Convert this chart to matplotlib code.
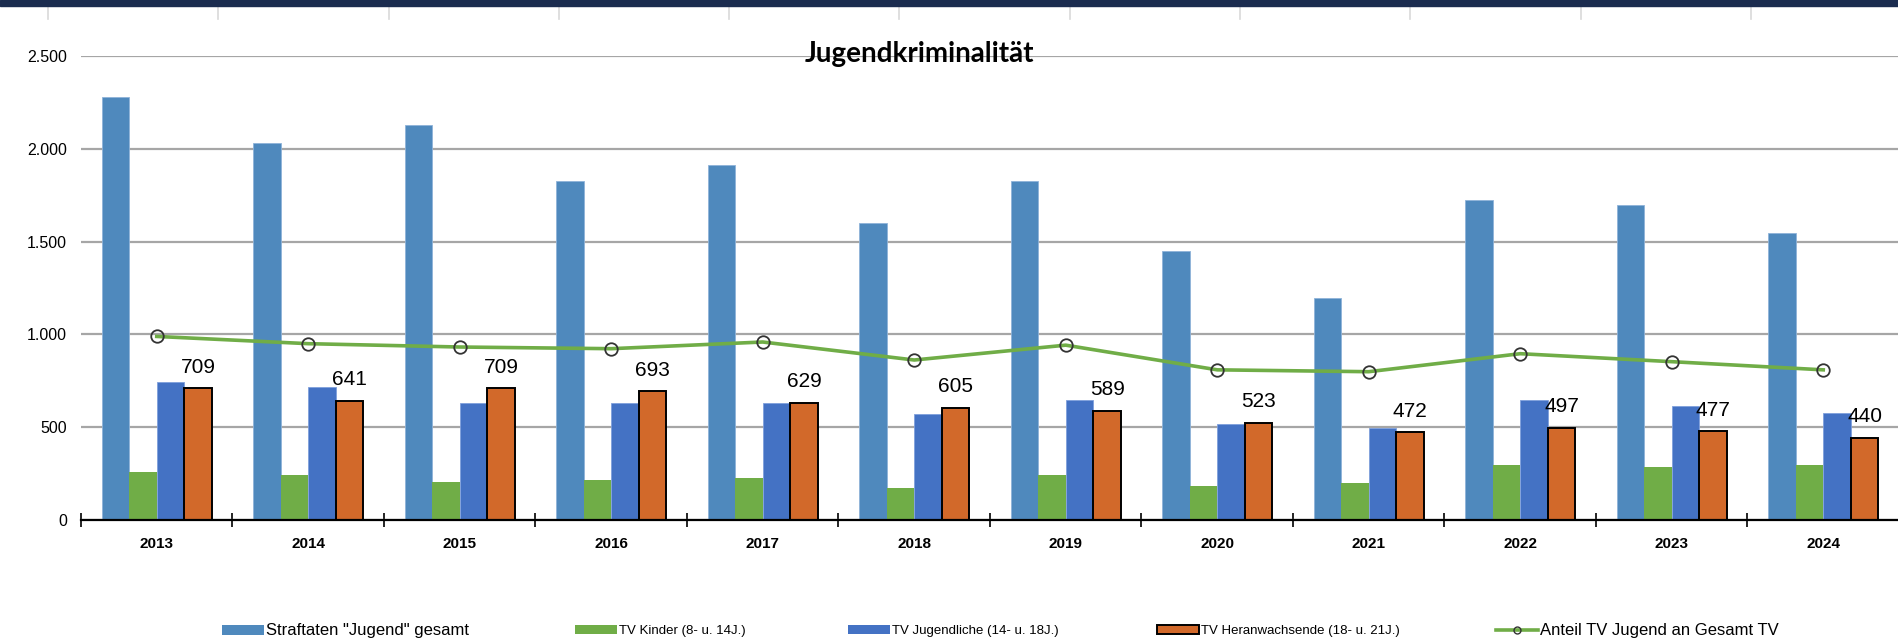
import numpy as np
import matplotlib
matplotlib.use("Agg")
import matplotlib.pyplot as plt
from matplotlib.patches import Patch, Rectangle
from matplotlib.lines import Line2D

# data
years = ["2013", "2014", "2015", "2016", "2017", "2018",
         "2019", "2020", "2021", "2022", "2023", "2024"]
gesamt = [2280, 2030, 2130, 1825, 1915, 1600, 1825, 1450, 1195, 1722, 1698, 1547]
kinder = [259, 241, 205, 214, 225, 173, 243, 181, 198, 297, 286, 297]
jugendliche = [745, 718, 630, 631, 631, 570, 649, 516, 497, 648, 613, 578]
heranwachsende = [709, 641, 709, 693, 629, 605, 589, 523, 472, 497, 477, 440]
anteil = [989, 950, 932, 923, 959, 862, 942, 809, 799, 896, 853, 809]

labels = ['Straftaten "Jugend" gesamt', "TV Kinder (8- u. 14J.)",
          "TV Jugendliche (14- u. 18J.)", "TV Heranwachsende (18- u. 21J.)",
          "Anteil TV Jugend an Gesamt TV"]

c_gesamt = "#4f89bd"
c_kinder = "#70ad47"
c_jug = "#4472c4"
c_her = "#d2692a"
c_line = "#70ad47"

plt.rcParams["font.family"] = ["Liberation Sans", "DejaVu Sans"]

fig = plt.figure(figsize=(18.99, 6.41), dpi=100)
ax = fig.add_axes([0.04265, 0.1888, 0.95735, 0.7238])

x = np.arange(len(years))
w = 0.182
ax.bar(x - 1.5 * w, gesamt, w, color=c_gesamt, edgecolor="#8fb3d9", linewidth=0.6, zorder=2)
ax.bar(x - 0.5 * w, kinder, w, color=c_kinder, linewidth=0, zorder=2)
ax.bar(x + 0.5 * w, jugendliche, w, color=c_jug, edgecolor="#7f9fdc", linewidth=0.6, zorder=2)
ax.bar(x + 1.5 * w, heranwachsende, w, color=c_her, edgecolor="black", linewidth=1.4, zorder=3)

ax.plot(x, anteil, color=c_line, lw=2.6, zorder=4)
ax.plot(x, anteil, ls="none", marker="o", ms=9, mfc="none", mec="#333333", mew=1.3, zorder=5)

# value labels above the orange bars
for xi, v in zip(x, heranwachsende):
    ax.text(xi + 1.5 * w, v + 115, str(v), ha="center", va="center", fontsize=15, zorder=6)

ax.set_xlim(-0.5, len(years) - 0.5)
ax.set_ylim(0, 2500)
ax.set_yticks([0, 500, 1000, 1500, 2000, 2500])
ax.set_yticklabels(["0", "500", "1.000", "1.500", "2.000", "2.500"], fontsize=11.5)
ax.tick_params(axis="y", length=0, pad=10)
ax.yaxis.grid(True, color="#a6a6a6", lw=1.6, zorder=0)
ax.set_axisbelow(True)

ax.set_xticks(x)
ax.set_xticklabels(years, fontsize=11, fontweight="bold")
ax.set_xticks(np.arange(-0.5, len(years)), minor=True)
ax.tick_params(axis="x", which="major", length=0, pad=12)
ax.tick_params(axis="x", which="minor", direction="inout", length=10, width=1.2)

for s in ["left", "right", "top"]:
    ax.spines[s].set_visible(False)
ax.spines["bottom"].set_linewidth(1.6)
ax.spines["bottom"].set_zorder(5)

fig.text(919 / 1899, 1 - 54 / 641, "Jugendkriminalität", ha="center", va="center",
         fontsize=20, fontweight="bold", family="Lato")

# dark bar and sheet column marks at the very top
fig.add_artist(Rectangle((0, 1 - 6 / 641), 1, 6 / 641, transform=fig.transFigure,
                         color="#1b2c4f", zorder=10))
for px in np.arange(48, 1899, 170.3):
    fig.add_artist(Line2D([px / 1899, px / 1899], [1 - 6 / 641, 1 - 19 / 641],
                          transform=fig.transFigure, color="#d9d9d9", lw=1.2))

# legend, one entry each so they sit where the reference has them
handles = [
    Patch(facecolor=c_gesamt, edgecolor="none"),
    Patch(facecolor=c_kinder, edgecolor="none"),
    Patch(facecolor=c_jug, edgecolor="none"),
    Patch(facecolor=c_her, edgecolor="black", linewidth=1.4),
    Line2D([], [], color=c_line, lw=2.6, marker="o", ms=5, mfc="none", mec="#333333"),
]
leg_x = [222, 575, 848, 1157, 1496]
leg_fs = [12, 9.5, 9.5, 9.5, 12]
for h, lab, px, fs in zip(handles, labels, leg_x, leg_fs):
    px_font = fs * 100 / 72
    leg = fig.legend([h], [lab], loc="center left", bbox_to_anchor=(px / 1899, 1 - 631 / 641),
                     frameon=False, fontsize=fs, handlelength=42 / px_font,
                     handleheight=9 / px_font, handletextpad=0.15, borderpad=0, borderaxespad=0)

fig.savefig("out.png", dpi=100, facecolor="white")
